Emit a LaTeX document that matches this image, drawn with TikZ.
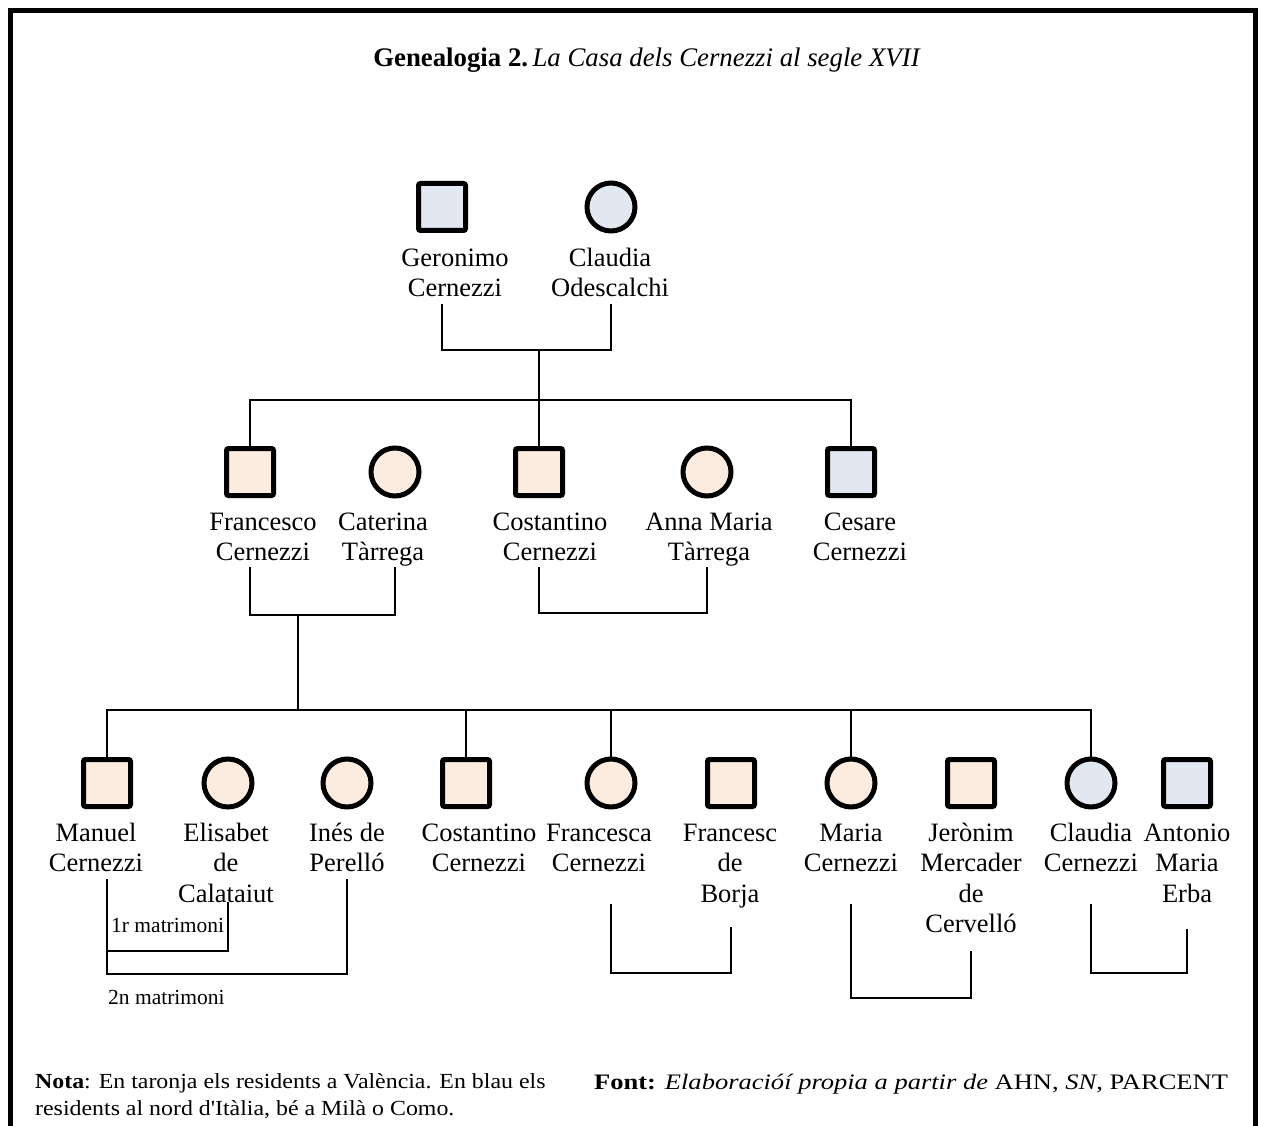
\documentclass[tikz,border=0pt]{standalone}
\usepackage{fontspec}
\setmainfont{Liberation Serif}
\newfontfamily\notefont{Liberation Serif}[FakeStretch=1.11]
\newfontfamily\sourcefont{Liberation Serif}[FakeStretch=1.2]
\definecolor{peach}{HTML}{FCEBDF}
\definecolor{paleblue}{HTML}{E1E8F1}
\begin{document}
\begin{tikzpicture}[x=1pt,y=-1pt,
  personbase/.style={draw=black, line width=5pt, inner sep=0pt},
  male/.style={personbase, rectangle, rounded corners=2pt, minimum size=47pt},
  female/.style={personbase, circle, minimum size=48pt},
  valencia/.style={fill=peach},
  milan/.style={fill=paleblue},
  % labels are anchored on the baseline of their last line
  personlabel/.style={font=\fontsize{26.5}{30.5}\selectfont, align=center, anchor=base, inner sep=0pt},
  marriagelabel/.style={font=\fontsize{21.5}{24}\selectfont, anchor=base west, inner sep=0pt},
  link/.style={line width=2pt, line cap=rect}]
\useasboundingbox (0,0) rectangle (1261,1126);

% outer frame, open at the bottom
\draw[line width=5pt, line join=miter] (10.5,1130) -- (10.5,10.5) -- (1255.5,10.5) -- (1255.5,1130);

% title
\node[anchor=base, inner sep=0pt, font=\fontsize{26.8}{30}\selectfont] (title) at (647,67)
  {\textbf{Genealogia 2.}\,\textit{La Casa dels Cernezzi al segle XVII}};

% ---- first generation
\node[male,milan] (ger) at (442,207) {};
\node[female,milan] (cla) at (611,207) {};
\node[personlabel] (gerl) at (455,296.5) {Geronimo\\Cernezzi};
\node[personlabel] (clal) at (610,296.5) {Claudia\\Odescalchi};
\coordinate (u0) at (539,350);
\coordinate (s0) at (539,400);
\draw[link] (ger |- 0,305) |- (u0) -| (cla |- 0,305);
\draw[link] (u0) -- (s0);

% ---- second generation
\node[male,valencia] (fra) at (250,472) {};
\node[female,valencia] (cat) at (395,472) {};
\node[male,valencia] (cos) at (539,472) {};
\node[female,valencia] (ann) at (707,472) {};
\node[male,milan] (ces) at (851,472) {};
\node[personlabel] (fral) at (263,560.5) {Francesco\\Cernezzi};
\node[personlabel] (catl) at (383,560.5) {Caterina\\Tàrrega};
\node[personlabel] (cosl) at (550,560.5) {Costantino\\Cernezzi};
\node[personlabel] (annl) at (709,560.5) {Anna Maria\\Tàrrega};
\node[personlabel] (cesl) at (860,560.5) {Cesare\\Cernezzi};

\draw[link] (fra |- s0) -- (ces |- s0);
\draw[link] (fra |- s0) -- (fra);
\draw[link] (s0) -- (cos);
\draw[link] (ces |- s0) -- (ces);

\coordinate (u1) at (298,615);
\coordinate (s1) at (298,710);
\draw[link] (fra |- 0,568) |- (u1) -| (cat |- 0,568);
\draw[link] (u1) -- (s1);
\draw[link] (cos |- 0,568) |- (ann |- 0,613) -- (ann |- 0,568);

% ---- third generation
\node[male,valencia] (man) at (107,783) {};
\node[female,valencia] (eli) at (228,783) {};
\node[female,valencia] (ine) at (347,783) {};
\node[male,valencia] (cot) at (466,783) {};
\node[female,valencia] (fca) at (611,783) {};
\node[male,valencia] (fsc) at (731,783) {};
\node[female,valencia] (mar) at (851,783) {};
\node[male,valencia] (jer) at (971,783) {};
\node[female,milan] (clc) at (1091,783) {};
\node[male,milan] (ant) at (1187,783) {};

\node[personlabel] (manl) at (96,871.5) {Manuel\\Cernezzi};
\node[personlabel] (elil) at (226,902) {Elisabet\\de\\Calataiut};
\node[personlabel] (inel) at (347,871.5) {Inés de\\Perelló};
\node[personlabel] (cotl) at (479,871.5) {Costantino\\Cernezzi};
\node[personlabel] (fcal) at (599,871.5) {Francesca\\Cernezzi};
\node[personlabel] (fscl) at (730,902) {Francesc\\de\\Borja};
\node[personlabel] (marl) at (851,871.5) {Maria\\Cernezzi};
\node[personlabel] (jerl) at (971,932.5) {Jerònim\\Mercader\\de\\Cervelló};
\node[personlabel] (clcl) at (1091,871.5) {Claudia\\Cernezzi};
\node[personlabel] (antl) at (1187,902) {Antonio\\Maria\\Erba};

\draw[link] (man |- s1) -- (clc |- s1);
\draw[link] (man |- s1) -- (man);
\draw[link] (cot |- s1) -- (cot);
\draw[link] (fca |- s1) -- (fca);
\draw[link] (mar |- s1) -- (mar);
\draw[link] (clc |- s1) -- (clc);

% Manuel's two marriages
\draw[link] (man |- 0,880) |- (ine |- 0,974) -- (ine |- 0,880);
\draw[link] (man |- 0,951) -| (eli |- 0,903);
\node[marriagelabel] (m1) at (111,932) {1r matrimoni};
\node[marriagelabel] (m2) at (108,1004) {2n matrimoni};

% other couples
\draw[link] (fca |- 0,905) |- (fsc |- 0,973) -- (fsc |- 0,928);
\draw[link] (mar |- 0,905) |- (jer |- 0,998) -- (jer |- 0,952);
\draw[link] (clc |- 0,905) |- (ant |- 0,973) -- (ant |- 0,930);

% notes
\node[anchor=base west, inner sep=0pt, align=left, font=\notefont\fontsize{21.5}{27}\selectfont] (nota) at (35,1115)
  {\textbf{Nota}: En taronja els residents a València. En blau els\\residents al nord d'Itàlia, bé a Milà o Como.};
\node[anchor=base west, inner sep=0pt, font=\sourcefont\fontsize{22.1}{27}\selectfont] (source) at (594,1089)
  {\textbf{Font:} \textit{Elaboracióí propia a partir de} AHN, \textit{SN}, PARCENT};
\end{tikzpicture}
\end{document}
